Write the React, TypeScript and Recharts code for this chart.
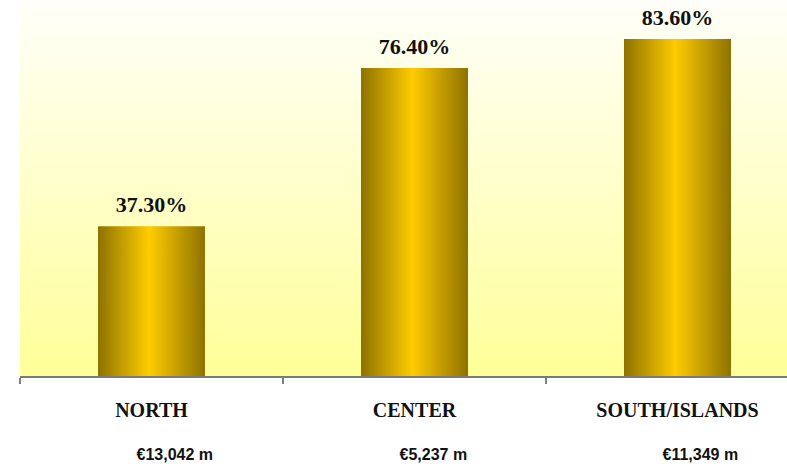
import { BarChart, Bar, XAxis, YAxis, CartesianGrid, LabelList } from "recharts";

const regions = ["NORTH", "CENTER", "SOUTH/ISLANDS"];
const shares = [37.3, 76.4, 83.6];
const amounts = ["€13,042 m", "€5,237 m", "€11,349 m"];

const data = regions.map((region, i) => ({
  region,
  share: shares[i],
  amount: amounts[i],
}));

const CHART_W = 820;
const CHART_H = 467;
const MARGIN = { top: 1, right: 11, left: 20, bottom: 0 };
const BAND = (CHART_W - MARGIN.left - MARGIN.right) / regions.length;

const serif = "'Liberation Serif', 'Times New Roman', serif";
const sans = "'Liberation Sans', Arial, sans-serif";

function RegionTick(props: any) {
  const { x = 0, y = 0, payload, index = 0 } = props;
  return (
    <g>
      {/* tick marks sit on category boundaries, not centres */}
      <line x1={x - BAND / 2} x2={x - BAND / 2} y1={y + 1} y2={y + 7} stroke="#000" strokeWidth={1} />
      <text
        x={x}
        y={y + 40}
        textAnchor="middle"
        fontFamily={serif}
        fontWeight="bold"
        fontSize={20}
        fill="#111"
      >
        {payload.value}
      </text>
      <text
        x={x - 15}
        y={y + 83}
        textAnchor="start"
        fontFamily={sans}
        fontWeight="bold"
        fontSize={16}
        fill="#111"
      >
        {amounts[index]}
      </text>
    </g>
  );
}

export default function App() {
  return (
    <div
      style={{
        position: "absolute",
        left: 0,
        top: 0,
        width: 787,
        height: 467,
        overflow: "hidden",
        background: "#fff",
      }}
    >
      <BarChart width={CHART_W} height={CHART_H} data={data} margin={MARGIN} barCategoryGap={0}>
        <defs>
          <linearGradient id="bgFill" x1="0" y1="0" x2="0" y2="1">
            <stop offset="0%" stopColor="#FFFFFA" />
            <stop offset="100%" stopColor="#FFFF99" />
          </linearGradient>
          <linearGradient id="barFill" x1="0" y1="0" x2="1" y2="0">
            <stop offset="0%" stopColor="#8E7200" />
            <stop offset="48%" stopColor="#FFCC00" />
            <stop offset="100%" stopColor="#8E7200" />
          </linearGradient>
        </defs>
        <CartesianGrid fill="url(#bgFill)" horizontal={false} vertical={false} />
        <XAxis
          dataKey="region"
          height={90}
          tickSize={0}
          tickMargin={0}
          tickLine={false}
          axisLine={{ stroke: "#7a7a7a", strokeWidth: 2 }}
          tick={<RegionTick />}
          interval={0}
        />
        <YAxis hide domain={[0, 93]} />
        <Bar dataKey="share" fill="url(#barFill)" barSize={107} isAnimationActive={false}>
          <LabelList
            dataKey="share"
            position="top"
            offset={14}
            formatter={(v: any) => `${Number(v).toFixed(2)}%`}
            style={{ fontFamily: serif, fontWeight: "bold", fontSize: 22, fill: "#111" }}
          />
        </Bar>
      </BarChart>
    </div>
  );
}
